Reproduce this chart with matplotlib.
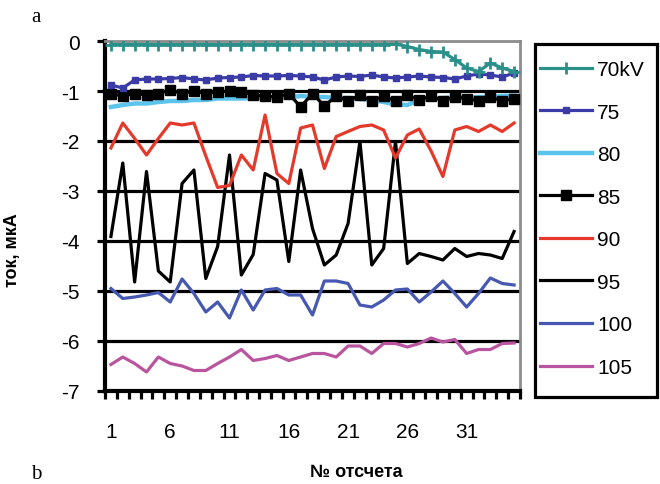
import matplotlib
matplotlib.use('Agg')
import matplotlib.pyplot as plt
from matplotlib.patches import Rectangle
import numpy as np

plt.rcParams['font.family'] = ['Liberation Sans', 'DejaVu Sans']

# номера отсчетов
otschet = list(range(1, 36))

# ток, мкА для каждого напряжения
s70 = [-0.07, -0.07, -0.07, -0.07, -0.07, -0.07, -0.07, -0.07, -0.07, -0.07,
       -0.07, -0.07, -0.07, -0.07, -0.07, -0.07, -0.07, -0.07, -0.07, -0.07,
       -0.07, -0.07, -0.07, -0.07, -0.06, -0.11, -0.17, -0.21, -0.22, -0.37,
       -0.54, -0.61, -0.44, -0.54, -0.61]
s75 = [-0.88, -0.94, -0.78, -0.76, -0.76, -0.75, -0.73, -0.76, -0.78, -0.74,
       -0.73, -0.72, -0.69, -0.70, -0.70, -0.69, -0.70, -0.72, -0.78, -0.72,
       -0.70, -0.71, -0.68, -0.72, -0.74, -0.72, -0.70, -0.72, -0.73, -0.76,
       -0.70, -0.66, -0.68, -0.72, -0.64]
s80 = [-1.32, -1.28, -1.25, -1.25, -1.22, -1.20, -1.20, -1.18, -1.18, -1.15,
       -1.15, -1.15, -1.14, -1.14, -1.13, -1.13, -1.10, -1.12, -1.12, -1.14,
       -1.14, -1.16, -1.18, -1.22, -1.27, -1.28, -1.18, -1.15, -1.14, -1.13,
       -1.13, -1.12, -1.12, -1.10, -1.09]
s85 = [-1.05, -1.10, -1.05, -1.08, -1.05, -0.98, -1.05, -1.00, -1.05, -1.02,
       -1.00, -1.02, -1.08, -1.10, -1.12, -1.05, -1.32, -1.05, -1.30, -1.10,
       -1.20, -1.08, -1.20, -1.10, -1.20, -1.08, -1.18, -1.10, -1.20, -1.12,
       -1.15, -1.20, -1.12, -1.20, -1.15]
s90 = [-2.14, -1.64, -1.95, -2.28, -1.95, -1.64, -1.68, -1.64, -2.30, -2.93,
       -2.89, -2.28, -2.58, -1.48, -2.65, -2.85, -1.74, -1.68, -2.55, -1.91,
       -1.81, -1.71, -1.68, -1.78, -2.34, -1.88, -1.76, -2.20, -2.71, -1.78,
       -1.71, -1.81, -1.68, -1.81, -1.64]
s95 = [-3.91, -2.44, -4.82, -2.61, -4.60, -4.82, -2.85, -2.58, -4.75, -4.11,
       -2.28, -4.68, -4.27, -2.65, -2.78, -4.41, -2.58, -3.75, -4.48, -4.28,
       -3.65, -2.01, -4.48, -4.15, -2.01, -4.45, -4.25, -4.31, -4.38, -4.15,
       -4.31, -4.25, -4.28, -4.35, -3.81]
s100 = [-4.95, -5.15, -5.12, -5.08, -5.03, -5.22, -4.76, -5.05, -5.42, -5.22,
        -5.54, -4.98, -5.38, -4.98, -4.95, -5.08, -5.08, -5.48, -4.80, -4.80,
        -4.85, -5.28, -5.32, -5.18, -4.98, -4.96, -5.22, -5.02, -4.80, -5.05,
        -5.32, -5.05, -4.74, -4.85, -4.88]
s105 = [-6.47, -6.32, -6.45, -6.62, -6.32, -6.45, -6.50, -6.59, -6.59, -6.45,
        -6.32, -6.17, -6.39, -6.35, -6.29, -6.39, -6.32, -6.25, -6.25, -6.32,
        -6.10, -6.10, -6.25, -6.05, -6.05, -6.12, -6.05, -5.94, -6.02, -5.97,
        -6.25, -6.17, -6.17, -6.05, -6.04]

x_labels = [1, 6, 11, 16, 21, 26, 31]
y_ticks = [0, -1, -2, -3, -4, -5, -6, -7]

fig = plt.figure(figsize=(6.6, 4.85), dpi=100)
ax = fig.add_axes([105/660, 1-392/485, 415/660, 350/485])

# горизонтальная сетка
for yv in y_ticks[1:-1]:
    ax.axhline(yv, color='black', lw=2.3, zorder=1)

l105, = ax.plot(otschet, s105, color='#b9559f', lw=2.3, label='105', zorder=3)
l100, = ax.plot(otschet, s100, color='#4658b0', lw=2.3, label='100', zorder=3)
l95, = ax.plot(otschet, s95, color='black', lw=2.3, label='95', zorder=3)
l90, = ax.plot(otschet, s90, color='#e53a2b', lw=2.3, label='90', zorder=3)
l80, = ax.plot(otschet, s80, color='#5cc3ec', lw=3.2, label='80', zorder=3)
l85, = ax.plot(otschet, s85, color='black', lw=2.3, marker='s', ms=6.5, label='85', zorder=4)
l75, = ax.plot(otschet, s75, color='#3b3ba8', lw=2.3, marker='s', ms=4, label='75', zorder=4)
l70, = ax.plot(otschet, s70, color='#2b8f8a', lw=2.3, marker='+', ms=9, mew=2, label='70kV', zorder=5)

ax.set_xlim(0.5, 35.5)
ax.set_ylim(-7, 0)

ax.set_xticks(np.arange(0.5, 36, 1))
ax.set_xticklabels([])
ax.set_xticks(x_labels, minor=True)
ax.set_xticklabels([str(v) for v in x_labels], minor=True, fontsize=15)
ax.tick_params(axis='x', which='major', direction='out', length=6, width=2.3, color='black')
ax.tick_params(axis='x', which='minor', length=0, pad=22)

ax.set_yticks(y_ticks)
ax.set_yticklabels([str(v) for v in y_ticks], fontsize=15)
ax.tick_params(axis='y', direction='out', length=6, width=2.3, pad=12)

ax.spines['left'].set_linewidth(3)
ax.spines['bottom'].set_linewidth(3)
ax.spines['top'].set_color('#8c8c8c')
ax.spines['right'].set_color('#8c8c8c')
ax.spines['top'].set_linewidth(2)
ax.spines['right'].set_linewidth(2)

# рамка легенды отдельно
fig.patches.append(Rectangle((535/660, 1-398/485), 122/660, 353/485,
                             transform=fig.transFigure, fill=False,
                             edgecolor='black', lw=2.3))

handles = [l70, l75, l80, l85, l90, l95, l100, l105]
leg = fig.legend(handles, [h.get_label() for h in handles], loc='upper left',
                 bbox_to_anchor=(540/660, 1-61/485), fontsize=15,
                 frameon=False, handlelength=2.5, handletextpad=0.25,
                 labelspacing=1.13, borderpad=0, borderaxespad=0)

fig.text(13/660, 1-250/485, 'ток, мкА', rotation=90, fontsize=13, fontweight='bold',
         ha='center', va='center')
fig.text(356/660, 1-473/485, '№ отсчета', fontsize=13, fontweight='bold',
         ha='center', va='center')
fig.text(36/660, 1-17/485, 'a', fontsize=15, family='Liberation Serif',
         ha='center', va='center')
fig.text(36/660, 1-484/485, 'b', fontsize=15, family='Liberation Serif',
         ha='center', va='bottom')

plt.savefig('out.png', dpi=100)
